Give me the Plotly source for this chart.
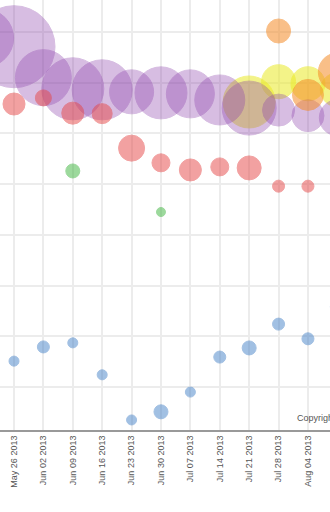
import plotly.graph_objects as go

# weekly dates (categories)
dates = ["2013-05-19", "2013-05-26", "2013-06-02", "2013-06-09", "2013-06-16",
         "2013-06-23", "2013-06-30", "2013-07-07", "2013-07-14", "2013-07-21",
         "2013-07-28", "2013-08-04", "2013-08-11"]

# series values (y) and bubble magnitudes
purple_y = [78.8, 77.1, 71.0, 68.8, 68.6, 68.2, 68.0, 67.8, 66.6, 65.0, 64.6, 63.5, 63.1]
purple_v = [841, 1681, 784, 961, 900, 484, 676, 576, 625, 729, 256, 256, 324]

red_dates = dates[1:12]
red_y = [65.8, 67.0, 64.0, 63.9, 57.1, 54.2, 52.8, 53.4, 53.2, 49.6, 49.6]
red_v = [121, 64, 121, 100, 169, 81, 121, 81, 144, 36, 36]

green_dates = ["2013-06-09", "2013-06-30"]
green_y = [52.6, 44.5]
green_v = [49, 20]

blue_dates = dates[1:13]
blue_y = [15.1, 17.9, 18.7, 12.4, 3.5, 5.1, 9.0, 15.9, 17.7, 22.4, 19.5, 25.8]
blue_v = [25, 36, 25, 25, 25, 49, 25, 36, 49, 36, 36, 49]

yellow_dates = ["2013-07-21", "2013-07-28", "2013-08-04", "2013-08-11"]
yellow_y = [66.2, 70.2, 69.8, 68.6]
yellow_v = [676, 289, 289, 289]

orange_dates = ["2013-07-28", "2013-08-04", "2013-08-11"]
orange_y = [80.2, 67.6, 72.1]
orange_v = [144, 240, 361]

series = [
    ("yellow", yellow_dates, yellow_y, yellow_v, "rgb(235,235,40)", 0.55),
    ("purple", dates, purple_y, purple_v, "rgb(142,68,173)", 0.35),
    ("red", red_dates, red_y, red_v, "rgb(230,70,70)", 0.5),
    ("green", green_dates, green_y, green_v, "rgb(60,180,60)", 0.5),
    ("blue", blue_dates, blue_y, blue_v, "rgb(70,130,200)", 0.5),
    ("orange", orange_dates, orange_y, orange_v, "rgb(245,140,40)", 0.55),
]

fig = go.Figure()
for name, xs, ys, vs, col, op in series:
    fig.add_trace(go.Scatter(
        x=xs, y=ys, mode="markers", name=name,
        marker=dict(size=vs, sizemode="area", sizeref=0.5, color=col,
                    opacity=op, line=dict(width=1, color=col)),
    ))

fig.update_layout(
    width=330, height=512,
    margin=dict(l=0, r=0, t=0, b=82),
    paper_bgcolor="white", plot_bgcolor="white",
    showlegend=False,
    font=dict(family="Liberation Sans, Arial, sans-serif"),
)
fig.update_xaxes(
    type="date",
    range=["2013-05-22 16:00", "2013-08-09 06:00"],
    tick0="2013-05-26", dtick=7 * 24 * 3600 * 1000,
    tickformat="%b %d %Y", tickangle=-90,
    tickfont=dict(size=9, color="#555"),
    showgrid=True, gridcolor="#ececec", gridwidth=2,
    showline=True, linecolor="#999", linewidth=2,
    zeroline=False, ticks="",
)
fig.update_yaxes(
    range=[1.52, 86.31], tick0=0, dtick=10,
    showticklabels=False, showgrid=True, gridcolor="#ececec", gridwidth=2,
    zeroline=False, showline=False,
)
fig.add_annotation(
    text="Copyright © 2013", xref="paper", yref="paper",
    x=295 / 330, y=12 / 430, xanchor="left", yanchor="middle",
    showarrow=False, font=dict(size=9, color="#555"),
)

fig.write_html("out.html")
